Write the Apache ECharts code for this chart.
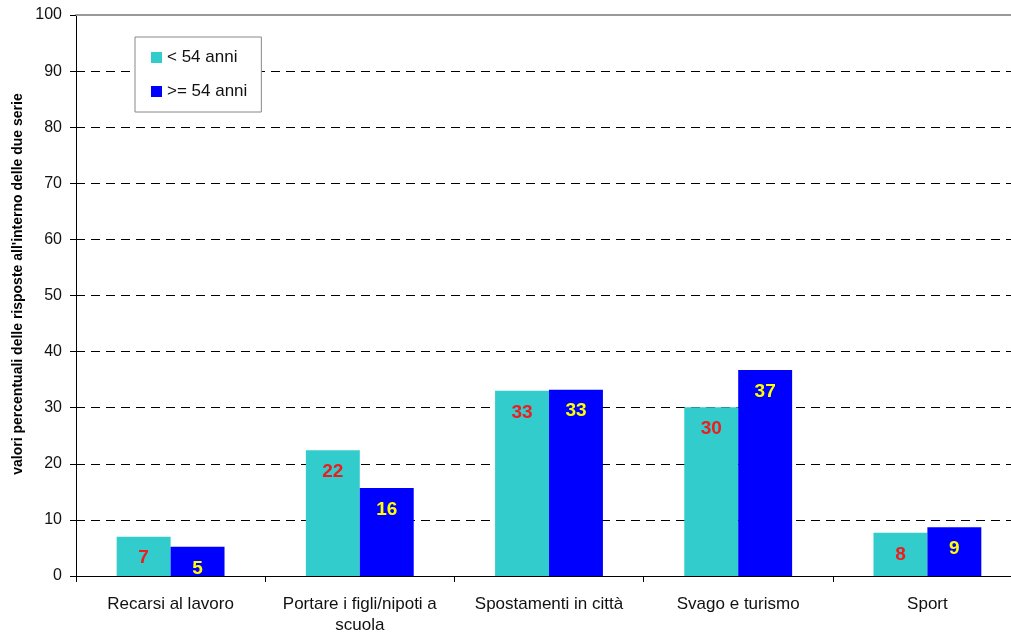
<!DOCTYPE html>
<html>
<head>
<meta charset="utf-8">
<script src="https://cdn.jsdelivr.net/npm/echarts@6/dist/echarts.min.js"></script>
<style>html,body{margin:0;padding:0;background:#fff;overflow:hidden;}#c{width:1011px;height:632px;}</style>
</head>
<body>
<div id="c"></div>
<script>
var categories = ['Recarsi al lavoro', 'Portare i figli/nipoti a\nscuola', 'Spostamenti in città', 'Svago e turismo', 'Sport'];
var seriesNames = ['< 54 anni', '>= 54 anni'];
var under54 = [7.0, 22.4, 33.0, 30.1, 7.7];
var over54 = [5.2, 15.7, 33.2, 36.7, 8.7];
var yTicks = [0, 100, 10];

var chart = echarts.init(document.getElementById('c'));
var font = 'Liberation Sans, Arial, sans-serif';
function lbl(color) {
  return {
    show: true, position: 'insideTop', distance: 12,
    formatter: function (p) { return Math.round(p.value); },
    color: color, fontWeight: 'bold', fontSize: 19, fontFamily: font
  };
}
chart.setOption({
  animation: false,
  backgroundColor: '#fff',
  grid: { left: 76, top: 15, width: 946, height: 561, containLabel: false, outerBoundsMode: 'none' },
  legend: {
    orient: 'vertical', left: 135, top: 37,
    padding: [12, 14, 12, 16], itemGap: 17,
    itemWidth: 11, itemHeight: 11,
    borderColor: '#888', borderWidth: 1,
    backgroundColor: '#fff',
    textStyle: { fontSize: 17, color: '#111', fontFamily: font },
    icon: 'rect',
    data: seriesNames
  },
  graphic: [{
    type: 'text', x: 18, y: 284, rotation: Math.PI / 2,
    style: {
      text: "valori percentuali delle risposte all'interno delle due serie",
      fontSize: 14, fontWeight: 'bold', fontFamily: font, fill: '#000',
      textAlign: 'center', textVerticalAlign: 'middle'
    }
  }],
  xAxis: [{
    type: 'category', data: categories, position: 'bottom',
    axisLine: { lineStyle: { color: '#000', width: 1 } },
    axisTick: { show: true, length: 6, interval: 0, lineStyle: { color: '#000' } },
    axisLabel: { interval: 0, hideOverlap: false, fontSize: 17, color: '#111', fontFamily: font, margin: 18, lineHeight: 21 }
  }, {
    type: 'category', data: categories, position: 'top',
    axisLine: { show: true, lineStyle: { color: '#999', width: 2 } },
    axisTick: { show: false }, axisLabel: { show: false }
  }],
  yAxis: {
    type: 'value', min: yTicks[0], max: yTicks[1], interval: yTicks[2],
    axisLine: { show: true, lineStyle: { color: '#000' } },
    axisTick: { show: true, length: 6, lineStyle: { color: '#000' } },
    axisLabel: { fontSize: 16, color: '#111', fontFamily: font, margin: 14 },
    splitLine: { show: true, lineStyle: { color: '#000', type: [9, 6], width: 1 } }
  },
  series: [{
    name: seriesNames[0], type: 'bar', data: under54,
    itemStyle: { color: '#33CCCC' },
    barGap: '0%', barCategoryGap: '43%',
    label: lbl('#ee1c1c')
  }, {
    name: seriesNames[1], type: 'bar', data: over54,
    itemStyle: { color: '#0000FF' },
    barGap: '0%', barCategoryGap: '43%',
    label: lbl('#ffff00')
  }]
});
</script>
</body>
</html>
